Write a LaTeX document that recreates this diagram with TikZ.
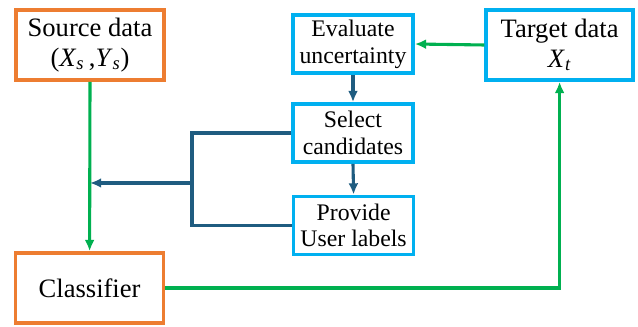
\documentclass[tikz,border=0pt]{standalone}
\usepackage{fontspec}
\setmainfont{Liberation Serif}
\usetikzlibrary{positioning}
\usetikzlibrary{shapes,arrows.meta}

\definecolor{boxorange}{RGB}{237,125,49}
\definecolor{boxblue}{RGB}{0,176,240}
\definecolor{linegreen}{RGB}{0,176,80}
\definecolor{linedark}{RGB}{31,92,128}

\tikzset{
  databox/.style={draw=boxorange, line width=2.6pt, minimum width=3.7cm, minimum height=1.75cm, align=center, font=\fontsize{18.9}{21}\selectfont, inner sep=0pt},
  tgtbox/.style={draw=boxblue, line width=2.6pt, minimum width=3.67cm, minimum height=1.75cm, align=center, font=\fontsize{18.9}{21}\selectfont, inner sep=0pt},
  stepbox/.style={draw=boxblue, line width=2.6pt, minimum width=3.0cm, minimum height=1.45cm, align=center, font=\fontsize{16.9}{19}\selectfont, inner sep=0pt},
  greenflow/.style={draw=linegreen, line width=2.2pt, -{Latex[length=8pt,width=7pt]}},
  darkflow/.style={draw=linedark, line width=2.2pt, -{Latex[length=8pt,width=7pt]}}
}

\begin{document}
\begin{tikzpicture}

\useasboundingbox (0,0) rectangle (15.95,8.175);

% left column
\node[databox] (src) at (2.25,7.05) {Source data\\(\textit{X}\textsubscript{\textit{s}}\,,\textit{Y}\textsubscript{\textit{s}})};
\node[databox] (cls) at (2.24,0.975) {Classifier};

% middle column
\node[stepbox] (eval) at (8.825,7.075) {Evaluate\\uncertainty};
\node[stepbox] (sel) at (8.825,4.85) {Select\\candidates};
\node[stepbox] (prov) at (8.84,2.54) {Provide\\User labels};

% right column
\node[tgtbox] (tgt) at (13.99,7.05) {Target data\\\textit{X}\textsubscript{\textit{t}}};

% green loop
\draw[greenflow] (src.south) -- (cls.north);
\draw[greenflow] (cls.east) -| (tgt.south);
\draw[greenflow] (tgt.west) -- (eval.east);

% steps
\draw[darkflow] (eval.south) -- (sel.north);
\draw[darkflow] (sel.south) -- (prov.north);

% feedback to classifier
\coordinate (mrg) at (4.8,3.6);
\coordinate (fb) at (src.south |- mrg);
\draw[linedark, line width=2.2pt] (sel.west) -| (mrg) |- (prov.west);
\draw[darkflow] (mrg) -- (fb);

\end{tikzpicture}
\end{document}
